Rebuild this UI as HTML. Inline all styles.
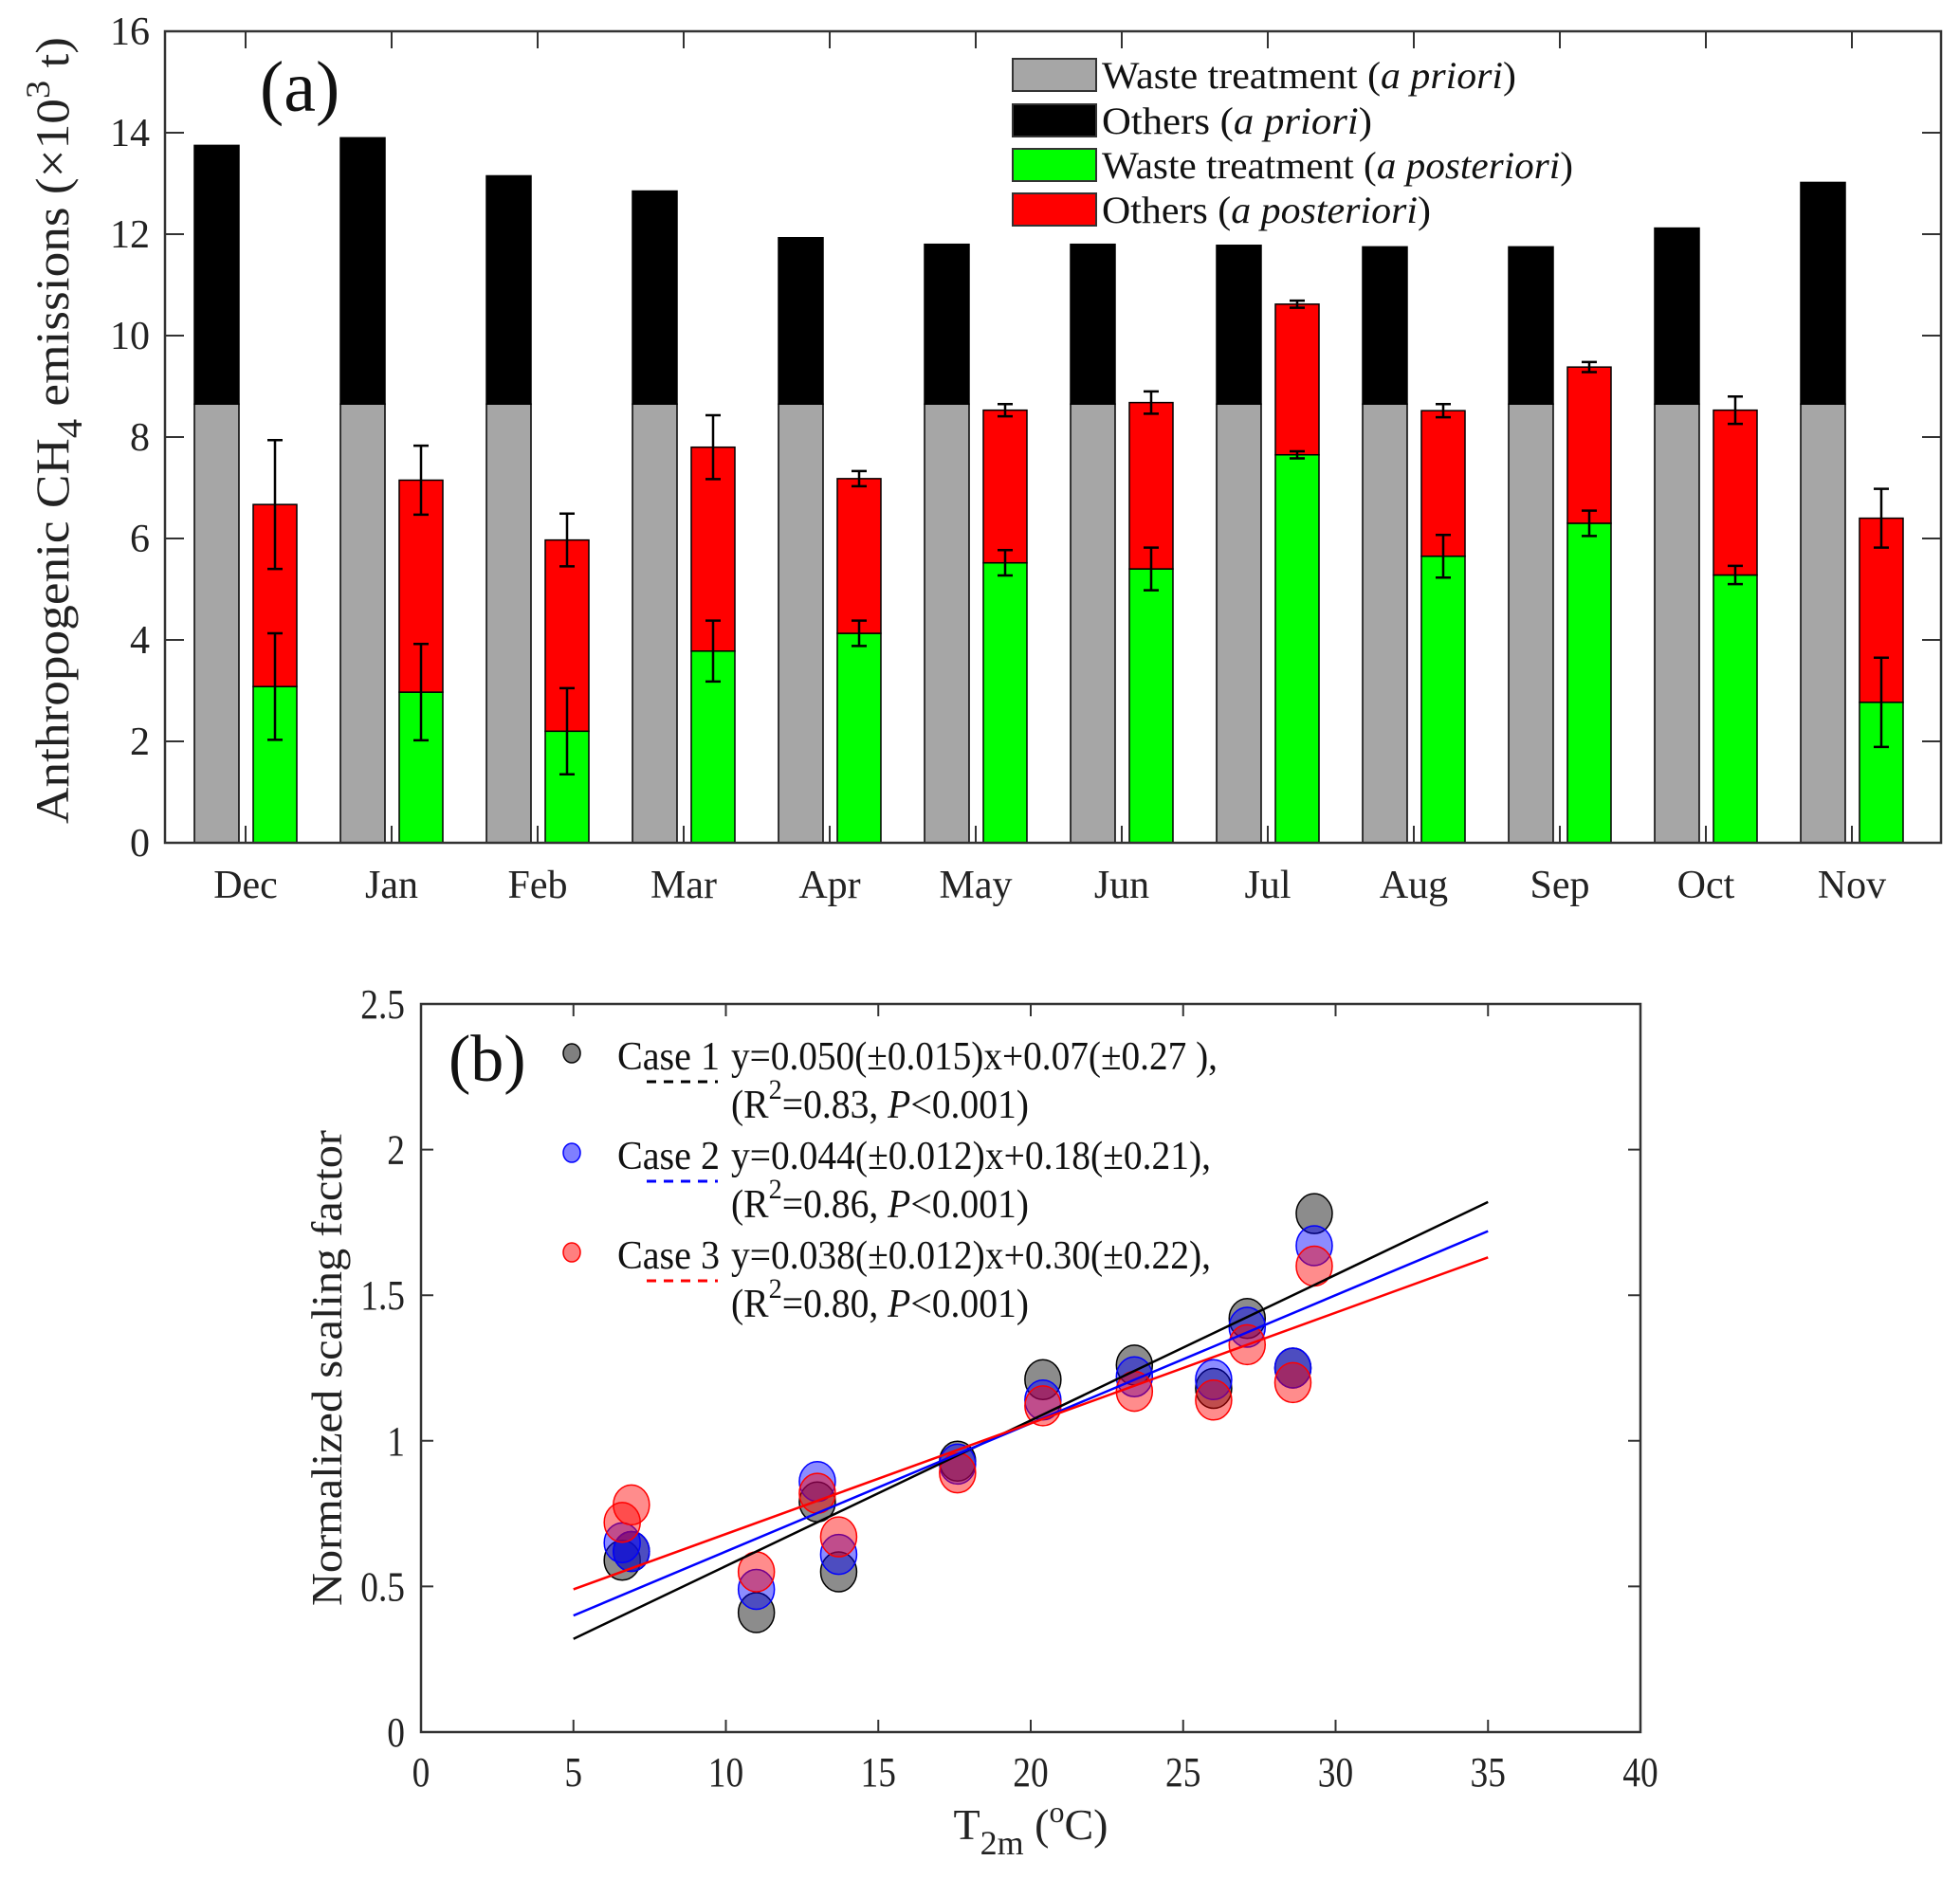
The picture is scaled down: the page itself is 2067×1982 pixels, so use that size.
<!DOCTYPE html>
<html><head><meta charset="utf-8"><style>
html,body{margin:0;padding:0;background:#fff;}
svg{display:block;font-family:"Liberation Serif",serif;}
</style></head><body>
<svg id="chart" width="2067" height="1982" viewBox="0 0 2067 1982" xmlns="http://www.w3.org/2000/svg">
<g id="pa"></g>
<g id="pb"></g>
</svg>
<script>
// ---- Panel (a) data ----
const months = ["Dec","Jan","Feb","Mar","Apr","May","Jun","Jul","Aug","Sep","Oct","Nov"];
const prioriWaste = [8.65,8.65,8.65,8.65,8.65,8.65,8.65,8.65,8.65,8.65,8.65,8.65];
const prioriTotal = [13.75,13.9,13.15,12.85,11.93,11.8,11.8,11.78,11.75,11.75,12.12,13.02];
const postWaste = [3.08,2.97,2.2,3.78,4.13,5.52,5.4,7.65,5.65,6.3,5.28,2.77];
const postTotal = [6.67,7.15,5.97,7.8,7.18,8.53,8.68,10.62,8.52,9.38,8.53,6.4];
const postWasteErr = [1.05,0.95,0.85,0.6,0.25,0.25,0.42,0.07,0.42,0.25,0.18,0.88];
const postTotalErr = [1.27,0.68,0.52,0.63,0.15,0.12,0.22,0.07,0.13,0.1,0.27,0.58];
const yTicksA = [0,2,4,6,8,10,12,14,16];
// ---- Panel (b) data ----
const temps = [6.6,6.9,11.0,13.0,13.7,17.6,20.4,23.4,26.0,27.1,28.6,29.3];
const case1 = [0.59,0.62,0.41,0.79,0.55,0.93,1.21,1.26,1.18,1.42,1.25,1.78];
const case2 = [0.65,0.62,0.49,0.86,0.61,0.92,1.14,1.22,1.21,1.39,1.25,1.67];
const case3 = [0.72,0.78,0.55,0.82,0.67,0.89,1.12,1.17,1.14,1.33,1.20,1.60];
const slopes = [0.050,0.044,0.038];
const intercepts = [0.07,0.18,0.30];
const xTicksB = [0,5,10,15,20,25,30,35,40];
const yTicksB = [0,0.5,1,1.5,2,2.5];

const NS="http://www.w3.org/2000/svg";
function mk(parent,tag,attrs){const e=document.createElementNS(NS,tag);for(const k in attrs)e.setAttribute(k,attrs[k]);parent.appendChild(e);return e;}

// ===== Panel A =====
const pa=document.getElementById('pa');
const AL=174,AR=2047,AT=33,AB=889;
const ya=v=>AB-(v/16)*(AB-AT);
const xa=i=>259+i*154;
months.forEach((m,i)=>{
  const c=xa(i);
  let r=mk(pa,'rect',{x:c-54,y:ya(prioriWaste[i]),width:47,height:ya(0)-ya(prioriWaste[i]),fill:'#a6a6a6',stroke:'#000','stroke-width':1.5});
  
  
  r=mk(pa,'rect',{x:c-54,y:ya(prioriTotal[i]),width:47,height:ya(prioriWaste[i])-ya(prioriTotal[i]),fill:'#000',stroke:'#000','stroke-width':1.5});
  
  
  r=mk(pa,'rect',{x:c+8,y:ya(postWaste[i]),width:46,height:ya(0)-ya(postWaste[i]),fill:'#00ff00',stroke:'#000','stroke-width':1.5});
  
  
  r=mk(pa,'rect',{x:c+8,y:ya(postTotal[i]),width:46,height:ya(postWaste[i])-ya(postTotal[i]),fill:'#ff0000',stroke:'#000','stroke-width':1.5});
  
  
  [[postWaste[i],postWasteErr[i]],[postTotal[i],postTotalErr[i]]].forEach(([v,e],k)=>{
    const ex=c+31;
    const g=mk(pa,'path',{d:`M${ex},${ya(v-e)}V${ya(v+e)}M${ex-8},${ya(v-e)}H${ex+8}M${ex-8},${ya(v+e)}H${ex+8}`,stroke:'#000','stroke-width':2.5,fill:'none'});
    
    
  });
  const t=mk(pa,'text',{x:c,y:947,'font-size':42,'text-anchor':'middle',fill:'#222'});
  t.textContent=m;
  
  
  mk(pa,'path',{d:`M${c},${AB}v-18M${c},${AT}v18`,stroke:'#333','stroke-width':2});
});
let ax=mk(pa,'rect',{x:AL,y:AT,width:AR-AL,height:AB-AT,fill:'none',stroke:'#333','stroke-width':2.5});


yTicksA.forEach(v=>{
  mk(pa,'path',{d:`M${AL},${ya(v)}h20M${AR},${ya(v)}h-20`,stroke:'#333','stroke-width':2});
  const t=mk(pa,'text',{x:158,y:ya(v)+14,'font-size':42,'text-anchor':'end',fill:'#222'});
  t.textContent=v;
  
  
});
let yt=mk(pa,'text',{transform:'translate(72,454) rotate(-90)','font-size':50,'text-anchor':'middle',fill:'#222',textLength:830,lengthAdjust:'spacingAndGlyphs'});
yt.innerHTML='Anthropogenic CH<tspan dy="14" font-size="38">4</tspan><tspan dy="-14"> emissions (×10</tspan><tspan dy="-20" font-size="36">3</tspan><tspan dy="20"> t)</tspan>';


let pl=mk(pa,'text',{x:274,y:117,'font-size':76,fill:'#111'});pl.textContent='(a)';


const legItems=[['#a6a6a6','Waste treatment (','a priori',')',437],['#000','Others (','a priori',')',285],['#00ff00','Waste treatment (','a posteriori',')',497],['#ff0000','Others (','a posteriori',')',347]];
const legYs=[79,127,174,221];
legItems.forEach((it,i)=>{
  const g=mk(pa,'g',{});
  
  
  mk(g,'rect',{x:1068,y:legYs[i]-17,width:88,height:34,fill:it[0],stroke:'#333','stroke-width':2});
  const t=mk(g,'text',{x:1162,y:legYs[i]+14,'font-size':40,fill:'#111',textLength:it[4],lengthAdjust:'spacingAndGlyphs'});
  t.innerHTML=it[1]+'<tspan font-style="italic">'+it[2]+'</tspan>'+it[3];
});

// ===== Panel B =====
const pb=document.getElementById('pb');
const BL=444,BR=1730,BT=1059,BB=1827;
const xb=v=>BL+v/40*(BR-BL);
const yb=v=>BB-v/2.5*(BB-BT);
let bx=mk(pb,'rect',{x:BL,y:BT,width:BR-BL,height:BB-BT,fill:'none',stroke:'#333','stroke-width':2.5});


xTicksB.forEach(v=>{
  mk(pb,'path',{d:`M${xb(v)},${BB}v-13M${xb(v)},${BT}v13`,stroke:'#333','stroke-width':2});
  const t=mk(pb,'text',{x:xb(v),y:1884,'font-size':44,'text-anchor':'middle',fill:'#222',transform:`translate(${xb(v)*0.15},0) scale(0.85,1)`});
  t.textContent=v;
  
  
});
yTicksB.forEach(v=>{
  mk(pb,'path',{d:`M${BL},${yb(v)}h13M${BR},${yb(v)}h-13`,stroke:'#333','stroke-width':2});
  const t=mk(pb,'text',{x:427,y:yb(v)+15,'font-size':44,'text-anchor':'end',fill:'#222',transform:`translate(${427*0.15},0) scale(0.85,1)`});
  t.textContent=v;
  
  
});
const cases=[case1,case2,case3];
const fills=['rgba(64,64,64,0.6)','rgba(0,0,255,0.45)','rgba(255,0,0,0.45)'];
const edges=['#000','#0000ff','#ff0000'];
cases.forEach((arr,ci)=>{
  arr.forEach((v,i)=>{
    const c=mk(pb,'ellipse',{cx:xb(temps[i]),cy:yb(v),rx:19,ry:21,fill:fills[ci],stroke:edges[ci],'stroke-width':1.5});
    
    
  });
});
slopes.forEach((s,ci)=>{
  const l=mk(pb,'line',{x1:xb(5),y1:yb(s*5+intercepts[ci]),x2:xb(35),y2:yb(s*35+intercepts[ci]),stroke:edges[ci],'stroke-width':2.5});
  
  
});
const eqs=['y=0.050(±0.015)x+0.07(±0.27 ),','y=0.044(±0.012)x+0.18(±0.21),','y=0.038(±0.012)x+0.30(±0.22),'];
const r2=['0.83','0.86','0.80'];
const legMk=['#808080','#7f7fff','#ff7f7f'];
[0,1,2].forEach(ci=>{
  const y0=1111+ci*105;
  const g=mk(pb,'g',{});
  
  
  mk(g,'ellipse',{cx:603,cy:y0,rx:9,ry:10,fill:legMk[ci],stroke:edges[ci],'stroke-width':1.5});
  const t1=mk(g,'text',{x:651,y:y0+17,'font-size':42,fill:'#111',textLength:108,lengthAdjust:'spacingAndGlyphs'});
  t1.textContent='Case '+(ci+1);
  mk(g,'line',{x1:682,y1:y0+30,x2:757,y2:y0+30,stroke:edges[ci],'stroke-width':3,'stroke-dasharray':'10,8'});
  const t2=mk(g,'text',{x:771,y:y0+17,'font-size':42,fill:'#111',textLength:ci==0?513:506,lengthAdjust:'spacingAndGlyphs'});
  t2.textContent=eqs[ci];
  const t3=mk(g,'text',{x:771,y:y0+68,'font-size':42,fill:'#111',textLength:314,lengthAdjust:'spacingAndGlyphs'});
  t3.innerHTML='(R<tspan dy="-20" font-size="30">2</tspan><tspan dy="20">='+r2[ci]+', </tspan><tspan font-style="italic">P</tspan>&lt;0.001)';
});
let pl2=mk(pb,'text',{x:473,y:1140,'font-size':70,fill:'#111'});pl2.textContent='(b)';


let ytb=mk(pb,'text',{transform:'translate(360,1443) rotate(-90)','font-size':46,'text-anchor':'middle',fill:'#222',textLength:502,lengthAdjust:'spacingAndGlyphs'});
ytb.textContent='Normalized scaling factor';


let xtb=mk(pb,'text',{x:1087,y:1940,'font-size':46,'text-anchor':'middle',fill:'#222'});
xtb.innerHTML='T<tspan dy="16" font-size="36">2m</tspan><tspan dy="-16"> (</tspan><tspan dy="-18" font-size="32">o</tspan><tspan dy="18">C)</tspan>';


</script>
</body></html>
